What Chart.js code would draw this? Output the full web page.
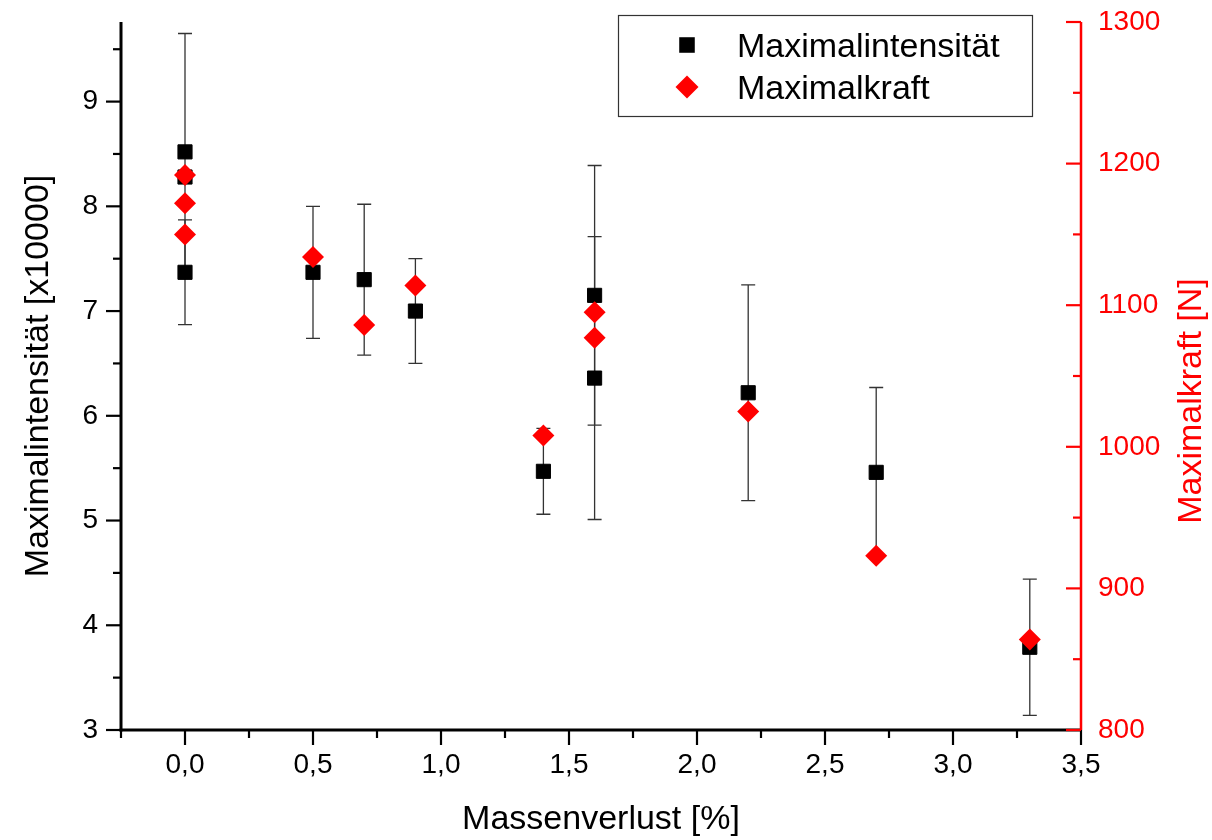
<!DOCTYPE html>
<html><head><meta charset="utf-8">
<script src="https://cdn.jsdelivr.net/npm/chart.js@4/dist/chart.umd.min.js"></script>
<style>html,body{margin:0;padding:0;background:#fff;} #wrap{width:1212px;height:840px;}</style>
</head><body><div id="wrap"><canvas id="c" width="1212" height="840"></canvas></div>
<script>
// ---- data ----
const massLossIntensity = [0, 0, 0, 0.5, 0.7, 0.9, 1.4, 1.6, 1.6, 2.2, 2.7, 3.3];
const maxIntensity      = [8.52, 8.28, 7.37, 7.37, 7.30, 7.00, 5.47, 7.15, 6.36, 6.22, 5.46, 3.79];
const maxIntensityErr   = [1.13, 0, 0.50, 0.63, 0.72, 0.50, 0.41, 1.24, 1.35, 1.03, 0.81, 0.65];
const massLossForce     = [0, 0, 0, 0.5, 0.7, 0.9, 1.4, 1.6, 1.6, 2.2, 2.7, 3.3];
const maxForce          = [1192, 1172, 1150, 1134, 1086, 1114, 1008, 1095, 1077, 1025, 923, 864];
const xTickValues  = [0, 0.5, 1, 1.5, 2, 2.5, 3, 3.5];
const xTickLabels  = ['0,0', '0,5', '1,0', '1,5', '2,0', '2,5', '3,0', '3,5'];
const xMinorTicks  = [-0.25, 0.25, 0.75, 1.25, 1.75, 2.25, 2.75, 3.25];
const yTickValues  = [3, 4, 5, 6, 7, 8, 9];
const yTickLabels  = ['3', '4', '5', '6', '7', '8', '9'];
const yMinorTicks  = [3.5, 4.5, 5.5, 6.5, 7.5, 8.5, 9.5];
const y2TickValues = [800, 900, 1000, 1100, 1200, 1300];
const y2TickLabels = ['800', '900', '1000', '1100', '1200', '1300'];
const y2MinorTicks = [850, 950, 1050, 1150, 1250];
const seriesNames  = ['Maximalintensität', 'Maximalkraft'];
const axisTitles   = { x: 'Massenverlust [%]', y: 'Maximalintensität [x10000]', y2: 'Maximalkraft [N]' };

const FONT = "'Liberation Sans', Arial, sans-serif";
Chart.defaults.font.family = FONT;
const RED = '#ff0000';

const drawPlugin = {
  id: 'drawPlugin',
  beforeDatasetsDraw(chart) {
    const { ctx, chartArea: ca, scales: { x, y, y2 } } = chart;
    ctx.save();
    // error bars
    ctx.strokeStyle = '#333';
    ctx.lineWidth = 1.3;
    maxIntensity.forEach((v, i) => {
      const e = maxIntensityErr[i];
      if (!e) return;
      const px = x.getPixelForValue(massLossIntensity[i]);
      const t = y.getPixelForValue(v + e), b = y.getPixelForValue(v - e);
      ctx.beginPath();
      ctx.moveTo(px, t); ctx.lineTo(px, b);
      ctx.moveTo(px - 7, t); ctx.lineTo(px + 7, t);
      ctx.moveTo(px - 7, b); ctx.lineTo(px + 7, b);
      ctx.stroke();
    });
    // left axis
    ctx.strokeStyle = '#000';
    ctx.lineWidth = 3;
    ctx.beginPath(); ctx.moveTo(ca.left, ca.top); ctx.lineTo(ca.left, ca.bottom + 1.5); ctx.stroke();
    ctx.lineWidth = 2.2;
    yTickValues.forEach(v => { const p = y.getPixelForValue(v); ctx.beginPath(); ctx.moveTo(ca.left, p); ctx.lineTo(ca.left - 15, p); ctx.stroke(); });
    yMinorTicks.forEach(v => { const p = y.getPixelForValue(v); ctx.beginPath(); ctx.moveTo(ca.left, p); ctx.lineTo(ca.left - 8, p); ctx.stroke(); });
    // bottom axis
    ctx.lineWidth = 3;
    ctx.beginPath(); ctx.moveTo(ca.left - 1.5, ca.bottom); ctx.lineTo(ca.right, ca.bottom); ctx.stroke();
    ctx.lineWidth = 2.2;
    xTickValues.forEach(v => { const p = x.getPixelForValue(v); ctx.beginPath(); ctx.moveTo(p, ca.bottom); ctx.lineTo(p, ca.bottom + 15); ctx.stroke(); });
    xMinorTicks.forEach(v => { const p = x.getPixelForValue(v); ctx.beginPath(); ctx.moveTo(p, ca.bottom); ctx.lineTo(p, ca.bottom + 8); ctx.stroke(); });
    // right axis
    ctx.strokeStyle = RED;
    ctx.lineWidth = 2.5;
    ctx.beginPath(); ctx.moveTo(ca.right, ca.top); ctx.lineTo(ca.right, ca.bottom); ctx.stroke();
    ctx.lineWidth = 2.2;
    y2TickValues.forEach(v => { const p = y2.getPixelForValue(v); ctx.beginPath(); ctx.moveTo(ca.right, p); ctx.lineTo(ca.right - 15, p); ctx.stroke(); });
    y2MinorTicks.forEach(v => { const p = y2.getPixelForValue(v); ctx.beginPath(); ctx.moveTo(ca.right, p); ctx.lineTo(ca.right - 8, p); ctx.stroke(); });
    ctx.restore();
  },
  afterDraw(chart) {
    const { ctx } = chart;
    ctx.save();
    // right axis title (reads bottom to top)
    ctx.fillStyle = RED;
    ctx.font = '34px ' + FONT;
    ctx.translate(1201, 401);
    ctx.rotate(-Math.PI / 2);
    ctx.textAlign = 'center';
    ctx.textBaseline = 'alphabetic';
    ctx.fillText(axisTitles.y2, 0, 0);
    ctx.restore();
    // legend
    ctx.save();
    ctx.fillStyle = '#fff';
    ctx.fillRect(618, 16, 414, 100);
    ctx.strokeStyle = '#333';
    ctx.lineWidth = 1.2;
    ctx.strokeRect(618.5, 15.5, 414, 101);
    const ds = chart.data.datasets;
    const rows = [45, 87];
    ds.forEach((d, i) => {
      ctx.fillStyle = d.backgroundColor;
      ctx.strokeStyle = d.borderColor;
      Chart.helpers.drawPoint(ctx, { pointStyle: d.pointStyle, radius: i === 0 ? 11 : 11.5, borderWidth: 0, rotation: 0 }, 687, rows[i]);
      ctx.fillStyle = '#000';
      ctx.font = '34px ' + FONT;
      ctx.textAlign = 'left';
      ctx.textBaseline = 'alphabetic';
      ctx.fillText(d.label, 737, rows[i] + 11.5);
    });
    ctx.restore();
  }
};

const fixVertical = w => s => { s.width = w; s.paddingTop = 0; s.paddingBottom = 0; };

new Chart(document.getElementById('c'), {
  type: 'scatter',
  data: {
    datasets: [
      {
        label: seriesNames[0],
        data: massLossIntensity.map((v, i) => ({ x: v, y: maxIntensity[i] })),
        yAxisID: 'y',
        pointStyle: 'rect', pointRadius: 10, pointHoverRadius: 10,
        backgroundColor: '#000', borderColor: '#000', borderWidth: 1,
        order: 2
      },
      {
        label: seriesNames[1],
        data: massLossForce.map((v, i) => ({ x: v, y: maxForce[i] })),
        yAxisID: 'y2',
        pointStyle: 'rectRot', pointRadius: 11, pointHoverRadius: 11,
        backgroundColor: RED, borderColor: RED, borderWidth: 0,
        order: 1
      }
    ]
  },
  options: {
    responsive: false, animation: false, devicePixelRatio: 1,
    layout: { padding: { top: 22, left: 0, right: 0, bottom: 0 } },
    plugins: { legend: { display: false }, tooltip: { enabled: false } },
    scales: {
      x: {
        type: 'linear', position: 'bottom', min: -0.25, max: 3.5,
        afterBuildTicks: s => { s.ticks = xTickValues.map(v => ({ value: v })); },
        afterFit: s => { s.height = 110; s.paddingLeft = 0; s.paddingRight = 0; },
        grid: { display: false, drawTicks: false },
        border: { display: false },
        ticks: { padding: 18, color: '#000', font: { size: 28 }, maxRotation: 0, autoSkip: false,
                 callback: (v, i) => xTickLabels[i] },
        title: { display: true, text: axisTitles.x, color: '#000', font: { size: 34 }, padding: { top: 0, bottom: 0 } }
      },
      y: {
        type: 'linear', position: 'left', min: 3, max: 9.76,
        afterBuildTicks: s => { s.ticks = yTickValues.map(v => ({ value: v })); },
        afterFit: fixVertical(121),
        grid: { display: false, drawTicks: false },
        border: { display: false },
        ticks: { padding: 23, color: '#000', font: { size: 28 }, autoSkip: false,
                 callback: (v, i) => yTickLabels[i] },
        title: { display: true, text: axisTitles.y, color: '#000', font: { size: 34 }, padding: { top: 18, bottom: 0 } }
      },
      y2: {
        type: 'linear', position: 'right', min: 800, max: 1300,
        afterBuildTicks: s => { s.ticks = y2TickValues.map(v => ({ value: v })); },
        afterFit: fixVertical(131),
        grid: { display: false, drawTicks: false },
        border: { display: false },
        ticks: { padding: 17, color: RED, font: { size: 28 }, autoSkip: false,
                 callback: (v, i) => y2TickLabels[i] },
        title: { display: false }
      }
    }
  },
  plugins: [drawPlugin]
});
</script></body></html>
